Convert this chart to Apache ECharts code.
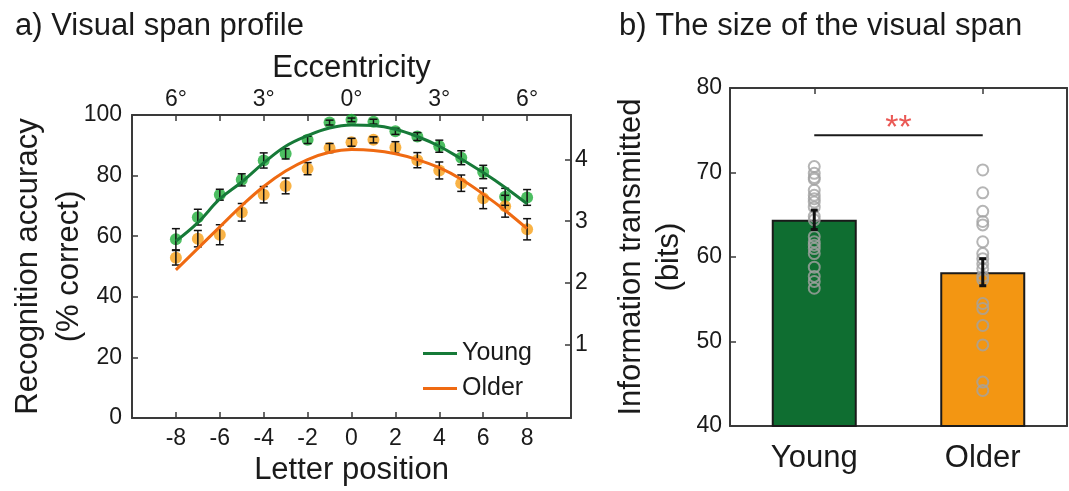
<!DOCTYPE html>
<html><head><meta charset="utf-8">
<script src="https://cdn.jsdelivr.net/npm/echarts@6/dist/echarts.min.js"></script>
<style>html,body{margin:0;padding:0;background:#fff}#c{width:1069px;height:491px}</style>
</head><body><div id="c"></div>
<script>
// ---- panel a data ----
const positions = [-8,-7,-6,-5,-4,-3,-2,-1,0,1,2,3,4,5,6,7,8];
const youngMean = [59.0,66.3,73.7,78.6,85.0,87.2,91.8,97.5,98.4,97.8,94.6,92.9,89.7,85.9,81.2,73.0,72.8];
const youngErr  = [3.5,2.6,1.8,2.0,2.5,1.7,1.2,0.8,0.6,0.8,1.0,1.3,2.0,2.3,2.2,2.8,2.6];
const olderMean = [52.9,59.2,60.5,67.9,73.7,76.6,82.3,89.1,91.0,91.8,89.3,85.1,81.7,77.5,72.5,69.9,62.3];
const olderErr  = [2.4,2.7,3.3,2.9,2.7,2.6,2.0,1.5,1.3,1.0,1.9,2.5,2.8,2.7,3.4,3.6,3.5];
const youngFit  = [58.4,64.5,72.3,77.9,84.2,89.7,93.2,95.7,96.7,96.5,95.3,92.9,89.7,85.5,81.0,76.1,70.7];
const olderFit  = [48.9,56.0,63.1,70.1,76.4,81.5,85.3,87.7,88.6,88.3,87.2,85.3,82.6,78.8,73.9,68.5,62.5];
const letterTicks = [-8,-6,-4,-2,0,2,4,6,8];
const eccTicks = [-8,-4,0,4,8];
const eccLabels = ['6°','3°','0°','3°','6°'];
const bitsTicks = [1,2,3,4];
// ---- panel b data ----
const groups = ['Young','Older'];
const barMeans = [64.4, 58.2];
const barErr = [1.15, 1.6];
const youngBits = [70.7,69.9,69.4,69.2,67.9,67.3,66.9,66.5,65.9,64.8,64.4,62.4,61.8,61.4,61.0,60.4,58.8,57.7,57.1,56.3];
const olderBits = [70.3,67.6,65.4,64.2,63.8,61.8,60.4,59.8,59.2,58.6,57.7,57.3,54.5,53.9,51.9,49.6,45.2,44.2];
const sigLevel = 74.4;
const sigMark = '**';

const FONT = "'Liberation Sans', Arial, sans-serif";
const TXT = '#1a1a1a';
const AX = '#3a3a3a';
const chart = echarts.init(document.getElementById('c'), null, {renderer:'canvas'});

function errRender(capW, lw) {
  return function(params, api) {
    const x = api.value(0), lo = api.value(1), hi = api.value(2);
    const p1 = api.coord([x, hi]), p2 = api.coord([x, lo]);
    const style = {stroke:'#111', lineWidth:lw};
    return {type:'group', children:[
      {type:'line', shape:{x1:p1[0],y1:p1[1],x2:p2[0],y2:p2[1]}, style},
      {type:'line', shape:{x1:p1[0]-capW,y1:p1[1],x2:p1[0]+capW,y2:p1[1]}, style},
      {type:'line', shape:{x1:p2[0]-capW,y1:p2[1],x2:p2[0]+capW,y2:p2[1]}, style}
    ]};
  };
}
const errData = (m, e) => positions.map((p,i)=>[p, m[i]-e[i], m[i]+e[i]]);
const pairs = (vals) => positions.map((p,i)=>[p, vals[i]]);

const axLine = {show:true, onZero:false, lineStyle:{color:AX, width:2}};
const tickIn = (vals, len) => ({show:true, inside:true, length:len||6, lineStyle:{color:AX, width:1.5}, customValues: vals});

const option = {
  animation:false,
  textStyle:{fontFamily:FONT},
  title:[
    {text:'a) Visual span profile', left:10, top:6, textStyle:{fontSize:31, fontWeight:'normal', color:TXT, fontFamily:FONT}},
    {text:'b) The size of the visual span', left:614, top:6, textStyle:{fontSize:31, fontWeight:'normal', color:TXT, fontFamily:FONT}}
  ],
  legend:{
    data:['Young','Older'], orient:'vertical', left:418, top:336, itemWidth:34, itemHeight:3, itemGap:10,
    icon:'rect', textStyle:{fontSize:25, color:TXT, fontFamily:FONT}
  },
  grid:[
    {left:132, top:115, width:439, height:307},
    {left:730, top:88, width:337, height:338}
  ],
  xAxis:[
    {gridIndex:0, type:'value', position:'bottom', min:-10, max:10, splitLine:{show:false},
     axisLine:axLine, axisTick:tickIn(letterTicks),
     axisLabel:{customValues:letterTicks, formatter:v=>String(v), fontSize:23, color:TXT, margin:9},
     name:'Letter position', nameLocation:'middle', nameGap:30, nameTextStyle:{fontSize:31, color:TXT}},
    {gridIndex:0, type:'value', position:'top', min:-10, max:10, splitLine:{show:false},
     axisLine:axLine, axisTick:tickIn(letterTicks),
     axisLabel:{customValues:eccTicks, formatter:v=>eccLabels[eccTicks.indexOf(v)] || '', fontSize:23, color:TXT, margin:4},
     name:'Eccentricity', nameLocation:'middle', nameGap:31, nameMoveOverlap:false, nameTextStyle:{fontSize:31, color:TXT}},
    {gridIndex:1, type:'value', position:'bottom', min:0.5, max:2.5, splitLine:{show:false},
     axisLine:axLine, axisTick:tickIn([1,2]),
     axisLabel:{customValues:[1,2], formatter:v=>groups[Math.round(v)-1] || '', fontSize:31, color:TXT, margin:17}},
    {gridIndex:1, type:'value', position:'top', min:0.5, max:2.5, splitLine:{show:false},
     axisLine:axLine, axisTick:tickIn([1,2]), axisLabel:{show:false}}
  ],
  yAxis:[
    {gridIndex:0, type:'value', position:'left', min:0, max:100, interval:20, splitLine:{show:false},
     axisLine:axLine, axisTick:{show:true, inside:true, length:6, lineStyle:{color:AX, width:1.5}},
     axisLabel:{fontSize:23, color:TXT, margin:10},
     name:'Recognition accuracy\n(% correct)', nameLocation:'middle', nameGap:42, nameRotate:90, nameMoveOverlap:false,
     nameTextStyle:{fontSize:31, color:TXT, lineHeight:41}},
    {gridIndex:0, type:'value', position:'right', min:-0.182, max:4.717, splitLine:{show:false},
     axisLine:axLine, axisTick:tickIn(bitsTicks),
     axisLabel:{customValues:bitsTicks, formatter:v=>String(v), fontSize:23, color:TXT, margin:4}},
    {gridIndex:1, type:'value', position:'left', min:40, max:80, interval:10, splitLine:{show:false},
     axisLine:axLine, axisTick:{show:true, inside:true, length:6, lineStyle:{color:AX, width:1.5}},
     axisLabel:{fontSize:23, color:TXT, margin:8},
     name:'Information transmitted\n(bits)', nameLocation:'middle', nameGap:42, nameRotate:90,
     nameTextStyle:{fontSize:31, color:TXT, lineHeight:38}},
    {gridIndex:1, type:'value', position:'right', min:40, max:80, splitLine:{show:false},
     axisLine:axLine, axisTick:{show:false}, axisLabel:{show:false}}
  ],
  series:[
    {name:'Young data', type:'scatter', xAxisIndex:0, yAxisIndex:0, data:pairs(youngMean), symbolSize:12,
     itemStyle:{color:'#1fae3a'}, z:2},
    {name:'Older data', type:'scatter', xAxisIndex:0, yAxisIndex:0, data:pairs(olderMean), symbolSize:12,
     itemStyle:{color:'#f7a018'}, z:2},
    {name:'Young err', type:'custom', xAxisIndex:0, yAxisIndex:0, renderItem:errRender(4,1.5),
     data:errData(youngMean,youngErr), encode:{x:0, y:[1,2]}, z:3},
    {name:'Older err', type:'custom', xAxisIndex:0, yAxisIndex:0, renderItem:errRender(4,1.5),
     data:errData(olderMean,olderErr), encode:{x:0, y:[1,2]}, z:3},
    {name:'Young', type:'line', xAxisIndex:0, yAxisIndex:0, data:pairs(youngFit), smooth:0.4, showSymbol:false,
     lineStyle:{color:'#167a38', width:3}, itemStyle:{color:'#167a38'}, z:4},
    {name:'Older', type:'line', xAxisIndex:0, yAxisIndex:0, data:pairs(olderFit), smooth:0.4, showSymbol:false,
     lineStyle:{color:'#ef6a12', width:3}, itemStyle:{color:'#ef6a12'}, z:4},
    // panel b
    {name:'bars', type:'bar', xAxisIndex:2, yAxisIndex:2, barWidth:85,
     data:barMeans.map((v,i)=>({value:[i+1, v], itemStyle:{color: i===0?'#0f6e31':'#f39612'}})),
     itemStyle:{borderColor:'#1a1a1a', borderWidth:2}, z:2},
    {name:'Young bits', type:'scatter', xAxisIndex:2, yAxisIndex:2, data:youngBits.map(v=>[1,v]), symbolSize:11,
     itemStyle:{color:'rgba(0,0,0,0)', borderColor:'#a3a3a3', borderWidth:2}, z:3},
    {name:'Older bits', type:'scatter', xAxisIndex:2, yAxisIndex:2, data:olderBits.map(v=>[2,v]), symbolSize:11,
     itemStyle:{color:'rgba(0,0,0,0)', borderColor:'#a3a3a3', borderWidth:2}, z:3},
    {name:'bar err', type:'custom', xAxisIndex:2, yAxisIndex:2, renderItem:errRender(3.5,3),
     data:barMeans.map((m,i)=>[i+1, m-barErr[i], m+barErr[i]]), encode:{x:0, y:[1,2]}, z:4},
    {name:'sig', type:'line', xAxisIndex:2, yAxisIndex:2, data:[[1,sigLevel],[2,sigLevel]], showSymbol:false,
     lineStyle:{color:'#1a1a1a', width:2}, z:4},
    {name:'sig mark', type:'scatter', xAxisIndex:2, yAxisIndex:2, data:[[1.5, sigLevel]], symbolSize:0,
     label:{show:true, formatter:sigMark, position:'top', distance:-10, fontSize:34, color:'#e5302a', fontFamily:FONT}, z:5}
  ]
};
chart.setOption(option);
</script>
</body></html>
